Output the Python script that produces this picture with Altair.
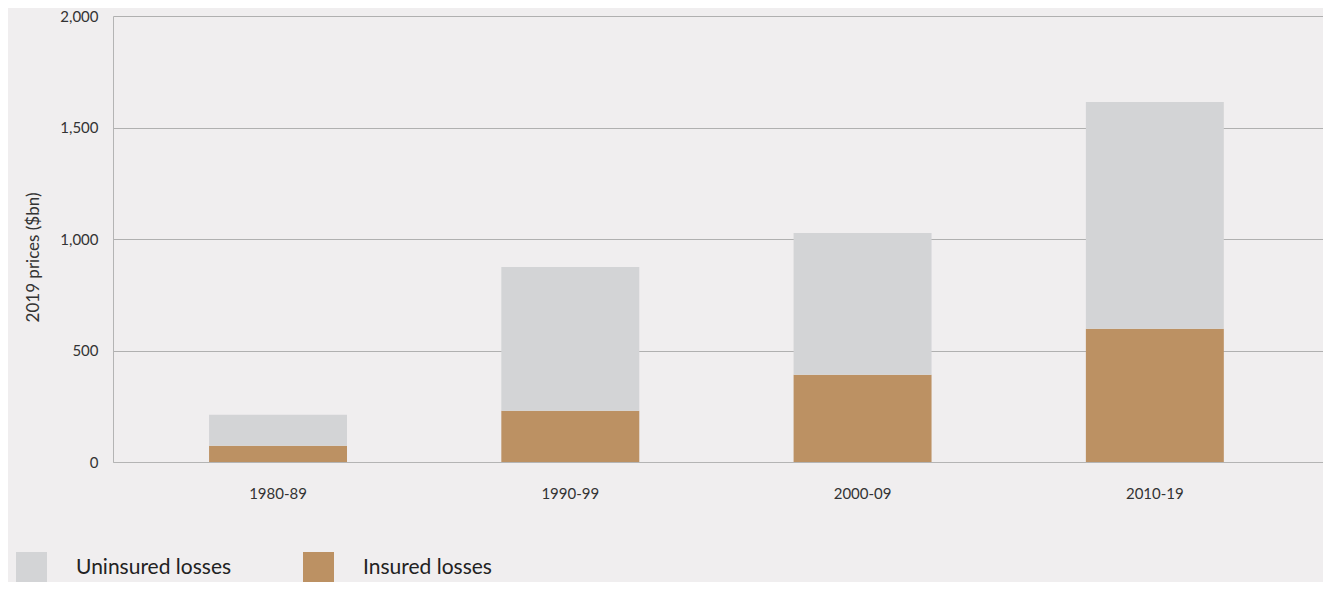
import altair as alt
import pandas as pd

decades = ["1980-89", "1990-99", "2000-09", "2010-19"]
insured = [73, 230, 391, 597]
uninsured = [139, 645, 636, 1017]
series = ["Uninsured losses", "Insured losses"]
colors = ["#d3d4d6", "#bc9163"]
y_ticks = [0, 500, 1000, 1500, 2000]

rows = []
for i, d in enumerate(decades):
    rows.append({"decade": d, "series": "Insured losses", "value": insured[i], "ord": 0})
    rows.append({"decade": d, "series": "Uninsured losses", "value": uninsured[i], "ord": 1})
df = pd.DataFrame(rows)

FONT = "Lato"

chart = alt.Chart(df).mark_bar().encode(
    x=alt.X(
        "decade:N", sort=decades, title=None,
        scale=alt.Scale(paddingInner=0.528, paddingOuter=0.334, align=0.492),
        axis=alt.Axis(labelAngle=0, labelFontSize=15, labelColor="#333333", labelPadding=24,
                      ticks=False, domainColor="#b4b4b4", grid=False, labelFont=FONT),
    ),
    y=alt.Y(
        "value:Q", stack="zero", scale=alt.Scale(domain=[0, 2000], nice=False),
        axis=alt.Axis(values=y_ticks, format=",.0f", title="2019 prices ($bn)", ticks=False,
                      labelPadding=15, labelFontSize=15, labelColor="#333333", labelFont=FONT,
                      gridColor="#b0b0b0", domainColor="#b4b4b4",
                      titleFont=FONT, titleFontSize=17, titleFontWeight="normal", titleColor="#333333",
                      titleX=-80, titleY=241, titleAngle=-90, titleAlign="center", titleBaseline="middle"),
    ),
    color=alt.Color(
        "series:N", scale=alt.Scale(domain=series, range=colors),
        legend=alt.Legend(title=None, orient="none", legendX=-97, legendY=536, direction="horizontal",
                          symbolType="square", symbolSize=961, symbolStrokeWidth=0, symbolOpacity=1,
                          labelFontSize=21, labelOffset=29, columnPadding=71, labelColor="#222222",
                          labelFont=FONT, labelLimit=400),
    ),
    order=alt.Order("ord:Q"),
).properties(
    width=1210, height=446,
    autosize=alt.AutoSizeParams(type="none"),
    padding={"left": 105, "top": 8, "right": 0, "bottom": 120},
    background="#f0eeef",
).configure_view(stroke=None)

chart.save("out.html", embed_options={"renderer": "svg", "actions": False})
